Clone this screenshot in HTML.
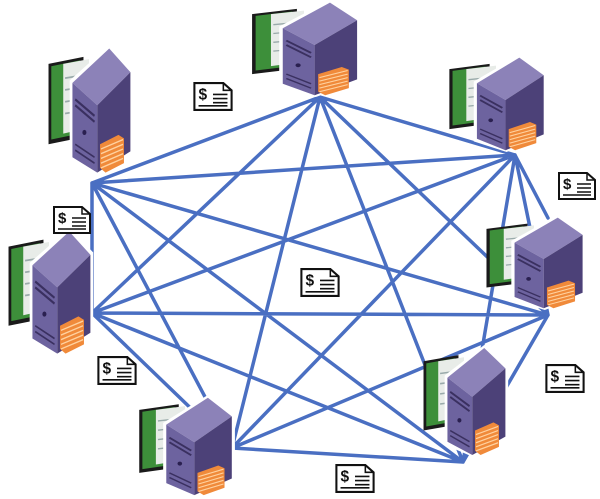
<!DOCTYPE html>
<html><head><meta charset="utf-8"><style>
html,body{margin:0;padding:0;background:#fff;width:600px;height:499px;overflow:hidden}
</style></head><body>
<svg width="600" height="499" viewBox="0 0 600 499" xmlns="http://www.w3.org/2000/svg">
<defs>
<symbol id="srv" viewBox="0 0 100 110" preserveAspectRatio="none">
 <path d="M6,16 L44,10 L44,78 L6,84 Z" fill="#1a1a1a"/>
 <path d="M9,18 L40,13 L40,75 L9,80 Z" fill="#3d8f3a"/>
 <path d="M22,16 L50,12 L50,70 L22,75 Z" fill="#e8ece8"/>
 <path d="M24,28 L48,25 M24,38 L48,35 M24,48 L48,45 M24,58 L48,55" stroke="#9aa" stroke-width="1.5"/>
 <path d="M29,30 L72,0 L98,21 L98,92 L60,110 L29,98 Z" fill="#fff"/>
 <path d="M32,32 L72,3 L95,23 L59,51 Z" fill="#8c82b8"/>
 <path d="M32,32 L59,51 L59,108 L32,95 Z" fill="#6d639f"/>
 <path d="M59,51 L95,23 L95,90 L59,108 Z" fill="#4c4178"/>
 <path d="M35,46 L56,60 M35,51 L56,65" stroke="#3a3060" stroke-width="2"/>
 <circle cx="45" cy="74" r="2.2" fill="#2a2050"/>
 <path d="M35,84 L56,95 M35,89 L56,100" stroke="#3a3060" stroke-width="1.5"/>
 <path d="M62,84 L82,76 L88,79 L88,100 L68,108 L62,104 Z" fill="#f08a3a"/>
 <path d="M63,88 L87,80 M63,92 L87,84 M63,96 L87,88 M63,100 L87,92 M63,104 L87,96" stroke="#ffd2a0" stroke-width="1.2"/>
</symbol>
<symbol id="doc" viewBox="0 0 40 30">
 <path d="M2,2 L30,2 L38,9 L38,28 L2,28 Z" fill="#fff" stroke="#111" stroke-width="2"/>
 <path d="M30,2 L30,9 L38,9" fill="none" stroke="#111" stroke-width="1.5"/>
 <text x="6" y="18" font-family="Liberation Sans, sans-serif" font-weight="bold" font-size="15" fill="#111">$</text>
 <path d="M20,13 L34,13 M20,17 L34,17 M20,21 L34,21 M6,24 L34,24" stroke="#111" stroke-width="1.5"/>
</symbol>
</defs>
<g stroke="#4a6fc2" stroke-width="3.5" stroke-linecap="round" fill="none">
<path d="M320,97 L515,155 M320,97 L548,315 M320,97 L463,462 M320,97 L232,448 M320,97 L92,313 M320,97 L92,183
M515,155 L548,315 M515,155 L463,462 M515,155 L232,448 M515,155 L92,313 M515,155 L92,183 M515,155 L548,218
M548,315 L463,462 M548,315 L232,448 M548,315 L92,313 M548,315 L92,183
M463,462 L232,448 M463,462 L92,313 M463,462 L92,183
M232,448 L92,313 M232,448 L92,183
M92,313 L92,183"/>
</g>
<use href="#srv" x="245" y="0" width="118" height="97"/>
<use href="#srv" x="443" y="55" width="106" height="97"/>
<use href="#srv" x="43" y="45" width="92" height="130"/>
<use href="#srv" x="480" y="215" width="108" height="95"/>
<use href="#srv" x="3" y="228" width="92" height="128"/>
<use href="#srv" x="133" y="395" width="104" height="102"/>
<use href="#srv" x="418" y="345" width="92" height="112"/>
<use href="#doc" x="192" y="81" width="42" height="31"/>
<use href="#doc" x="557" y="171" width="40" height="30"/>
<use href="#doc" x="52" y="205" width="40" height="30"/>
<use href="#doc" x="299" y="267" width="42" height="31"/>
<use href="#doc" x="96" y="355" width="42" height="31"/>
<use href="#doc" x="544" y="363" width="42" height="31"/>
<use href="#doc" x="334" y="463" width="42" height="31"/>
</svg>
</body></html>
